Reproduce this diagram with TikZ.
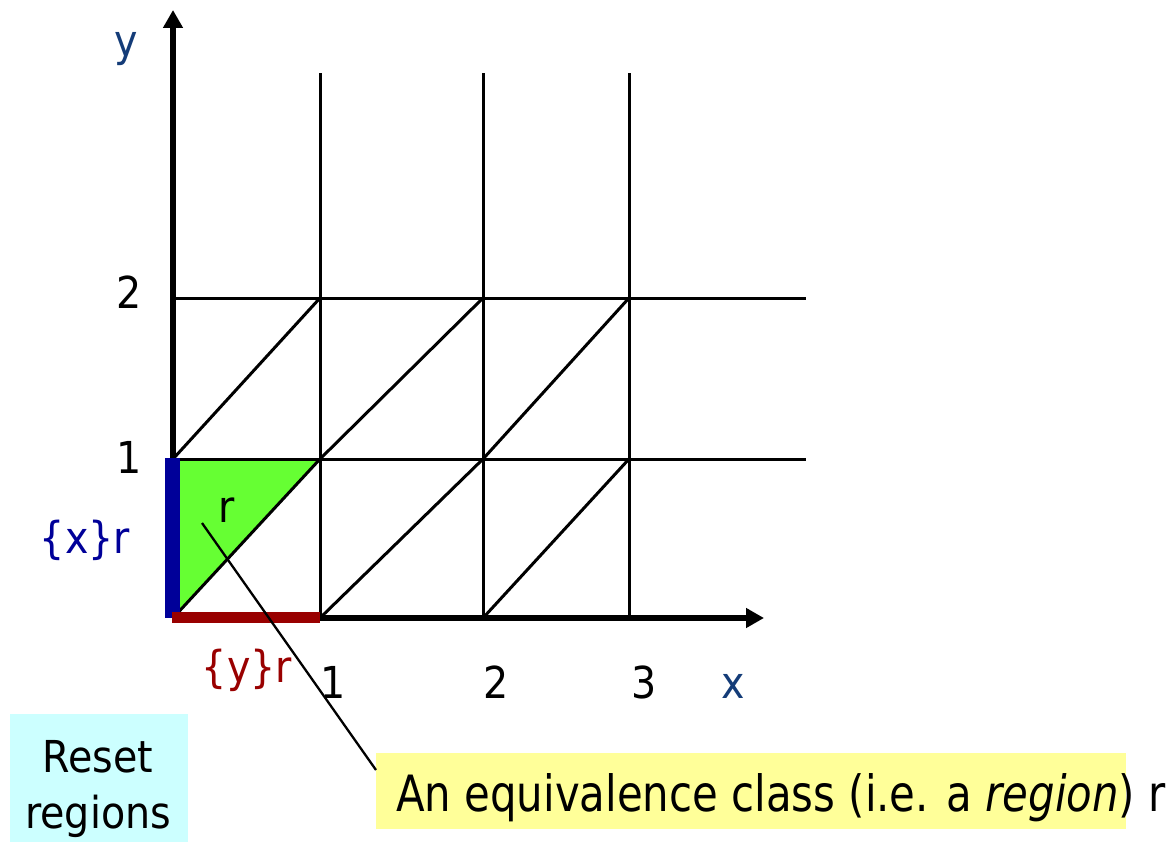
\documentclass[tikz,border=0pt]{standalone}
\usepackage{fontspec}
\setmainfont{DejaVu Sans}[FakeStretch=0.9]
\usetikzlibrary{arrows.meta}
\definecolor{axlbl}{RGB}{20,60,120}
\definecolor{xrblue}{RGB}{0,0,153}
\definecolor{yrred}{RGB}{153,0,0}
\definecolor{regiongreen}{RGB}{102,255,51}
\definecolor{cyanbox}{RGB}{204,255,255}
\definecolor{yelbox}{RGB}{255,255,153}
\begin{document}
\begin{tikzpicture}[x=1pt,y=-1pt,
  lbl/.style={font=\fontsize{44}{52}\selectfont, inner sep=0pt, anchor=base},
  gridline/.style={line width=3pt, black},
  axisline/.style={line width=6.5pt, -{Triangle[length=18pt,width=19pt]}},
  boxfill/.style={inner sep=0pt, anchor=north west, draw=none},
]
\useasboundingbox (0,0) rectangle (1174,842);
% grid coordinates
\coordinate (O) at (173,618);
\coordinate (A1) at (320,618); \coordinate (A2) at (483,618); \coordinate (A3) at (629,618);
\coordinate (B0) at (173,459); \coordinate (B1) at (320,459); \coordinate (B2) at (483,459);
\coordinate (B3) at (629,459); \coordinate (Bend) at (806,459);
\coordinate (C0) at (173,298); \coordinate (C1) at (320,298); \coordinate (C2) at (483,298);
\coordinate (C3) at (629,298); \coordinate (Cend) at (806,298);
\coordinate (T1) at (320,73); \coordinate (T2) at (483,73); \coordinate (T3) at (629,73);
\coordinate (Ytip) at (173,10); \coordinate (Xtip) at (764,618);

% green region
\fill[regiongreen] (B0) -- (B1) -- (O) -- cycle;

% grid
\draw[gridline] (A1) -- (T1);
\draw[gridline] (A2) -- (T2);
\draw[gridline] (A3) -- (T3);
\draw[gridline] (B0) -- (Bend);
\draw[gridline] (C0) -- (Cend);
\draw[gridline] (O) -- (B1) -- (C2);
\draw[gridline] (B0) -- (C1);
\draw[gridline] (A1) -- (B2) -- (C3);
\draw[gridline] (A2) -- (B3);

% axes
\draw[axisline] (O) -- (Ytip);
\draw[axisline] (O) -- (Xtip);

% reset bars
\draw[line width=15pt, xrblue] (172,458) -- (172,618);
\draw[line width=11pt, yrred] (172,617.5) -- (320,617.5);

% labels
\node[lbl, text=axlbl] (ylab) at (126,57) {y};
\node[lbl, text=axlbl] (xlab) at (733,698) {x};
\node[lbl] (xone) at (333,698) {1};
\node[lbl] (xtwo) at (496,698) {2};
\node[lbl] (xthree) at (644,698) {3};
\node[lbl] (ytwo) at (129,308) {2};
\node[lbl] (yone) at (129,473) {1};
\node[lbl, text=xrblue] (xr) at (85,553) {\{x\}r};
\node[lbl, text=yrred] (yr) at (247,682) {\{y\}r};
\node[lbl] (rlab) at (227,522) {r};

% reset regions box
\node[boxfill, fill=cyanbox, minimum width=178pt, minimum height=128pt] (reset) at (10,714) {};
\node[lbl] (resetA) at (98,772) {Reset};
\node[lbl] (resetB) at (98,828) {regions};

% equivalence class box
\node[boxfill, fill=yelbox, minimum width=750pt, minimum height=76pt] (ybox) at (376,753) {};
\node[inner sep=0pt, anchor=base west, font=\fontsize{50}{58}\selectfont] (ytext) at (396,811)
  {\scalebox{0.93}[1]{An equivalence class (i.e. a \textit{region}) r}};

% pointer
\coordinate (rtail) at (202,523);
\coordinate (pend) at (376,770);
\draw[line width=2.3pt] (rtail) -- (pend);
\end{tikzpicture}
\end{document}
